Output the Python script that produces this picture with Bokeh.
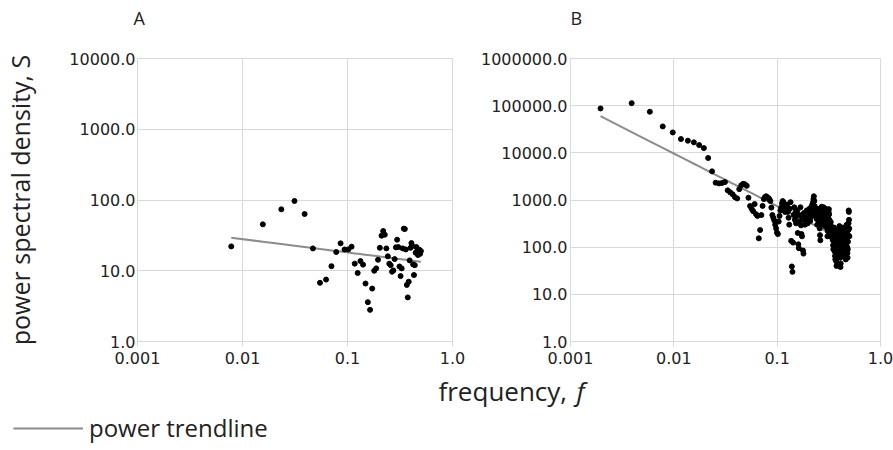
import numpy as np
from bokeh.plotting import figure
from bokeh.models import FixedTicker, Range1d, Label, Legend, LegendItem
from bokeh.layouts import column, row
from bokeh.embed import file_html
from bokeh.resources import INLINE

# ---------------- data ----------------
# Panel A: periodogram of a 128-sample series (frequencies k/128)
n_samples_A = 128
harmonics_A = list(range(1, 65))
psd_A = [22.1, 45.3, 73.8, 96.8, 63.4, 20.7, 6.76, 7.5, 11.6, 18.4,
         24.4, 20.0, 20.0, 21.9, 12.6, 9.3, 13.7, 12.2, 6.6, 3.6,
         2.8, 5.6, 10.0, 10.8, 14.3, 21.1, 31.3, 36.4, 32.3, 20.7,
         16.0, 12.6, 12.0, 9.7, 10.1, 14.6, 21.4, 27.5, 21.6, 11.5,
         8.4, 10.8, 20.7, 39.3, 38.9, 20.0, 6.3, 4.2, 7.0, 14.0,
         21.1, 24.6, 22.4, 12.3, 8.7, 12.0, 18.0, 21.6, 19.0, 16.7,
         18.0, 19.8, 17.4, 19.0]
trend_A_coef = 11.76     # S = a * f^b  (power trendline)
trend_A_exp = -0.188

# Panel B: periodogram of a 512-sample series (frequencies k/512)
n_samples_B = 512
harmonics_B = list(range(1, 257))
psd_B = [87300, 113000, 74300, 36300, 27100, 19600, 18100, 16700, 14600, 12600, 7770, 4050,
         2330, 2250, 2300, 2400,
         1600, 1450, 1320, 1150, 1080, 1700, 2050, 2200, 2150, 2000, 1120, 745, 650, 580, 820, 500,
         460, 154, 231, 480, 750, 1050, 1150, 1200, 1150, 1100, 1050, 950, 690, 480, 420, 370,
         300, 250, 203, 190, 350, 460, 600, 690, 850, 950, 880, 700, 560, 600, 700, 800,
         560, 420, 300, 650, 900, 136, 39, 30, 125, 480, 700, 380, 550, 320, 450,
         600, 200, 115, 95, 480, 350, 700, 290, 190, 170, 410, 85, 73, 530, 380, 300,
         450, 520, 380, 600, 430, 320, 480, 550, 400, 650, 500, 360, 580, 700, 450, 620,
         800, 540, 900, 1050, 1200, 950, 750, 600, 480, 650, 520, 400, 560, 300, 450, 380,
         520, 420, 650, 350, 250, 180, 140, 300, 480, 600, 720, 550, 430, 380, 500, 640,
         700, 560, 450, 340, 280, 420, 520, 650, 580, 470, 390, 310, 250, 170, 220, 330,
         460, 560, 640, 500, 380, 300, 250, 200, 260, 340, 280, 230, 190, 160, 210, 250,
         180, 140, 110, 90, 150, 200, 260, 170, 120, 80,
         65, 55, 100, 140, 75, 50, 40, 60, 90, 130,
         170, 220, 190, 150, 110, 85, 70, 160, 230, 280,
         210, 130, 95, 60, 38, 45, 70, 120, 180, 240,
         200, 150, 100, 75, 90, 140, 190, 260, 220, 160,
         120, 85, 65, 110, 150, 200, 170, 130, 95, 70,
         55, 80, 120, 180, 240, 300, 200, 140, 100, 75,
         60, 90, 130, 180, 230, 320, 600, 560, 380, 250, 170]
trend_B_coef = 56.4
trend_B_exp = -1.117

x_ticks = [0.001, 0.01, 0.1, 1.0]
x_tick_labels = ["0.001", "0.01", "0.1", "1.0"]
yA_ticks = [1.0, 10.0, 100.0, 1000.0, 10000.0]
yA_tick_labels = ["1.0", "10.0", "100.0", "1000.0", "10000.0"]
yB_ticks = [1.0, 10.0, 100.0, 1000.0, 10000.0, 100000.0, 1000000.0]
yB_tick_labels = ["1.0", "10.0", "100.0", "1000.0", "10000.0", "100000.0", "1000000.0"]

panel_titles = ["A", "B"]
y_title = "power spectral density, S"
x_title = "frequency,"
x_title_symbol = "f"
legend_label = "power trendline"

# ---------------- style ----------------
GRID = "#d9d9d9"
TREND = "#8c8c8c"
TXT = "#222222"
TICK_FONT = "DejaVu Sans"
TITLE_FONT = "Open Sans"
PAGE_W = 893
HEAD_H = 36
FIG_H = 335


def spectrum(harm, n, psd, a, b):
    freq = np.array(harm, dtype=float) / n
    return freq, np.array(psd, dtype=float), a * freq ** b


def make_panel(freq, psd, trend, y_ticks, y_labels, width, mbl, mbr, ystandoff):
    p = figure(width=width, height=FIG_H, x_axis_type="log", y_axis_type="log",
               x_range=Range1d(x_ticks[0], x_ticks[-1]),
               y_range=Range1d(y_ticks[0], y_ticks[-1]),
               output_backend="svg", toolbar_location=None,
               min_border_left=mbl, min_border_right=mbr,
               min_border_top=22, min_border_bottom=30)
    p.background_fill_color = "white"
    p.border_fill_color = "white"
    p.outline_line_color = GRID
    p.grid.grid_line_color = GRID
    p.grid.grid_line_width = 1

    p.xaxis.ticker = FixedTicker(ticks=x_ticks)
    p.xaxis.major_label_overrides = dict(zip(x_ticks, x_tick_labels))
    p.yaxis.ticker = FixedTicker(ticks=y_ticks)
    p.yaxis.major_label_overrides = dict(zip(y_ticks, y_labels))

    for ax in (p.xaxis, p.yaxis):
        ax.minor_tick_line_color = None
        ax.major_tick_in = 0
        ax.major_label_text_font = TICK_FONT
        ax.major_label_text_font_size = "16px"
        ax.major_label_text_color = TXT
    p.xaxis.axis_line_color = GRID
    p.xaxis.major_tick_line_color = GRID
    p.xaxis.major_tick_out = 5
    p.xaxis.major_label_standoff = 5
    p.yaxis.axis_line_color = None
    p.yaxis.major_tick_line_color = None
    p.yaxis.major_tick_out = 0
    p.yaxis.major_label_standoff = ystandoff
    p.yaxis.major_label_text_align = "left"

    p.line(freq, trend, line_color=TREND, line_width=2)
    p.scatter(freq, psd, size=5, color="black")
    return p


def text_strip(height):
    s = figure(width=PAGE_W, height=height, x_range=Range1d(0, PAGE_W), y_range=Range1d(0, height),
               output_backend="svg", toolbar_location=None, min_border=0,
               x_axis_location=None, y_axis_location=None)
    s.grid.visible = False
    s.outline_line_color = None
    s.background_fill_color = "white"
    s.border_fill_color = "white"
    return s


fA, sA, tA = spectrum(harmonics_A, n_samples_A, psd_A, trend_A_coef, trend_A_exp)
fB, sB, tB = spectrum(harmonics_B, n_samples_B, psd_B, trend_B_coef, trend_B_exp)

pA = make_panel(fA, sA, tA, yA_ticks, yA_tick_labels, 468, 133, 16, 2)
pA.yaxis.axis_label = y_title
pA.yaxis.axis_label_text_font = TITLE_FONT
pA.yaxis.axis_label_text_font_size = "25px"
pA.yaxis.axis_label_text_font_style = "normal"
pA.yaxis.axis_label_text_color = TXT
pA.yaxis.axis_label_standoff = 29

pB = make_panel(fB, sB, tB, yB_ticks, yB_tick_labels, 425, 102, 13, 3)

# header: panel letters above each frame's left edge
head = text_strip(HEAD_H)
for txt, xpos in zip(panel_titles, [133, 570]):
    head.add_layout(Label(x=xpos, y=18.5, text=txt, text_font=TITLE_FONT,
                          text_font_size="18px", text_color=TXT, text_baseline="alphabetic"))

# footer: shared x title + legend
FOOT_H = 78
foot = text_strip(FOOT_H)
foot.add_layout(Label(x=438, y=59, text=x_title, text_font=TITLE_FONT,
                      text_font_size="26px", text_color=TXT, text_baseline="alphabetic"))
foot.add_layout(Label(x=576, y=59, text=x_title_symbol, text_font=TITLE_FONT,
                      text_font_size="26px", text_font_style="italic",
                      text_color=TXT, text_baseline="alphabetic"))

# legend key: the panel-A trendline, plotted on an off-screen range of the footer
foot.extra_x_ranges = {"offscreen": Range1d(10, 20)}
trend_key = foot.line(fA, tA, x_range_name="offscreen", line_color=TREND, line_width=2)
legend = Legend(items=[LegendItem(label=legend_label, renderers=[trend_key])],
                location=(13, 5), glyph_width=70, glyph_height=26, label_height=26,
                label_standoff=6, padding=0, margin=0, border_line_color=None,
                background_fill_alpha=0, label_text_font=TITLE_FONT,
                label_text_font_size="24px", label_text_color=TXT)
foot.add_layout(legend)

layout = column(head, row(pA, pB), foot)
open("out.html", "w").write(file_html(layout, INLINE))
